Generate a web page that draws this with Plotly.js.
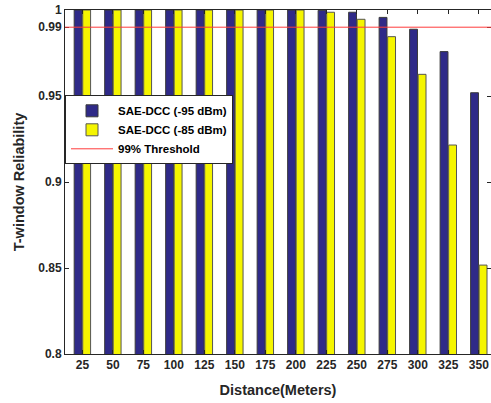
<!DOCTYPE html>
<html>
<head>
<meta charset="utf-8">
<script src="https://cdn.plot.ly/plotly-3.0.1.min.js"></script>
<style>html,body{margin:0;padding:0;background:#fff;}#chart{width:491px;height:403px;}</style>
</head>
<body>
<div id="chart"></div>
<script>
const distances = ['25','50','75','100','125','150','175','200','225','250','275','300','325','350'];
const dcc95 = [1, 1, 1, 1, 1, 1, 1, 1, 0.9998, 0.9987, 0.9957, 0.9888, 0.9758, 0.9519];
const dcc85 = [1, 1, 1, 1, 1, 1, 1, 1, 0.9987, 0.9946, 0.9845, 0.9626, 0.9215, 0.8517];
const threshold = 0.99;
const yTicks = [0.8, 0.85, 0.9, 0.95, 0.99, 1];
const yTickText = ['0.8', '0.85', '0.9', '0.95', '0.99', '1'];

const fam = 'Liberation Sans, Arial, sans-serif';
const tickFont = {family: fam, size: 12, color: '#262626', weight: 'bold'};
const titleFont = {family: fam, size: 14.5, color: '#262626', weight: 'bold'};

const data = [
  {type: 'bar', x: distances, y: dcc95, name: 'SAE-DCC (-95 dBm)',
   marker: {color: '#2f2a88', line: {color: '#3a3a3a', width: 1}}},
  {type: 'bar', x: distances, y: dcc85, name: 'SAE-DCC (-85 dBm)',
   marker: {color: '#f5f500', line: {color: '#555555', width: 1}}}
];

const layout = {
  width: 491, height: 403,
  margin: {l: 65, r: 0, t: 10, b: 49},
  paper_bgcolor: '#fff', plot_bgcolor: '#fff',
  font: tickFont,
  showlegend: true,
  barmode: 'group', bargap: 0.44, bargroupgap: 0.08,
  xaxis: {
    type: 'category', range: [-0.57, 13.4],
    showgrid: false, zeroline: false,
    showline: true, linecolor: '#262626', linewidth: 1, mirror: 'ticks',
    ticks: 'inside', ticklen: 4, tickcolor: '#262626',
    tickfont: tickFont,
    title: {text: 'Distance(Meters)', font: titleFont, standoff: 13}
  },
  yaxis: {
    range: [0.8, 1],
    tickmode: 'array', tickvals: yTicks, ticktext: yTickText,
    showgrid: false, zeroline: false,
    showline: true, linecolor: '#262626', linewidth: 1, mirror: 'ticks',
    ticks: 'inside', ticklen: 4, tickcolor: '#262626',
    tickfont: tickFont,
    title: {text: 'T-window Reliability', font: titleFont, standoff: 10}
  },
  legend: {
    x: 0.0, y: 0.752, xanchor: 'left', yanchor: 'top',
    bgcolor: '#fff', bordercolor: '#262626', borderwidth: 1,
    font: {family: fam, size: 11.5, color: '#000', weight: 'bold'},
    tracegroupgap: 0, itemwidth: 42
  },
  shapes: [{
    type: 'line', xref: 'paper', x0: 0, x1: 1, yref: 'y', y0: threshold, y1: threshold,
    line: {color: '#ff3b3b', width: 1}, name: '99% Threshold', showlegend: true
  }]
};

Plotly.newPlot('chart', data, layout, {staticPlot: true, displayModeBar: false});
</script>
</body>
</html>
